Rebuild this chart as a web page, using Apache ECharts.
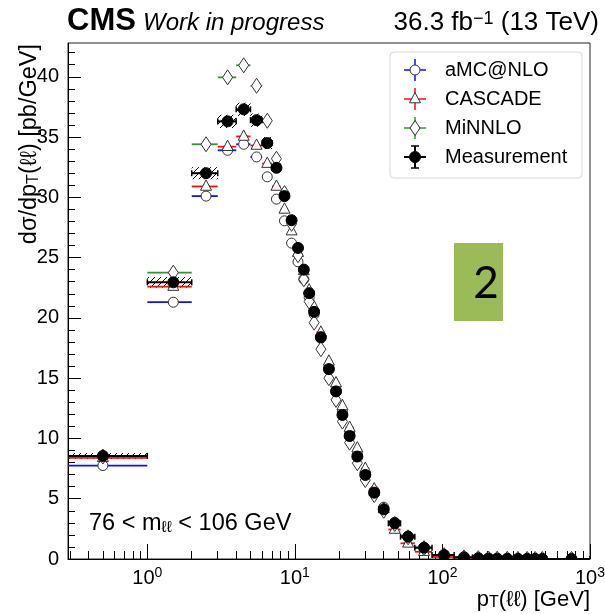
<!DOCTYPE html>
<html><head><meta charset="utf-8">
<script src="https://cdn.jsdelivr.net/npm/echarts@6/dist/echarts.min.js"></script>
<style>html,body{margin:0;padding:0;background:#fff}#c{width:605px;height:614px}</style>
</head><body><div id="c"></div>
<script>
// ---------------- data ----------------
const binEdges = [0,1,2,3,4,5,6,7,8,9,10,11,12,13,14,16,18,20,22,25,28,32,37,43,52,65,85,120,160,190,220,250,300,350,400,450,500,1000];
const measurement = [8.55,22.95,32.0,36.3,37.3,36.4,34.5,32.45,30.1,28.1,25.8,24.0,22.05,20.5,18.4,15.75,13.9,11.95,10.2,8.5,6.97,5.5,4.12,2.96,1.85,0.94,0.33,0.14,0.07,0.045,0.03,0.02,0.012,0.008,0.005,0.004,0.0008];
const measurementStat = [0.05,0.1,0.12,0.12,0.12,0.12,0.12,0.11,0.1,0.1,0.1,0.09,0.09,0.09,0.08,0.08,0.07,0.07,0.06,0.05,0.05,0.04,0.04,0.03,0.02,0.02,0.01,0.01,0.005,0.004,0.003,0.002,0.002,0.001,0.001,0.001,0.0005];
const measurementSyst = [0.25,0.45,0.5,0.55,0.55,0.55,0.5,0.45,0.42,0.4,0.37,0.35,0.32,0.3,0.27,0.23,0.2,0.18,0.15,0.13,0.11,0.09,0.07,0.05,0.04,0.02,0.01,0.005,0.003,0.002,0.002,0.001,0.001,0.001,0.001,0.001,0.0005];
const amcnlo = [7.75,21.3,30.1,33.9,34.4,33.35,31.7,29.85,28.05,26.2,24.65,23.2,21.7,20.3,18.3,15.9,14.0,12.2,10.4,8.7,7.1,5.65,4.3,3.05,1.9,0.95,0.33,0.13,0.065,0.04,0.027,0.017,0.01,0.0065,0.0045,0.003,0.0007];
const cascade = [8.4,22.6,30.9,34.2,35.05,34.3,32.8,30.9,29.0,27.2,25.4,23.9,22.3,20.9,18.8,16.4,14.6,12.7,10.9,9.2,7.5,5.8,4.15,2.45,1.3,0.6,0.17,0.06,0.03,0.018,0.012,0.007,0.004,0.0025,0.0016,0.0011,0.0002];
const minnlo = [8.5,23.75,34.4,39.95,40.95,39.25,36.35,33.2,30.35,27.8,25.2,23.2,21.35,19.6,17.4,15.0,13.2,11.4,9.65,7.95,6.55,5.3,4.0,2.9,1.8,0.9,0.32,0.13,0.065,0.04,0.027,0.017,0.01,0.0065,0.0045,0.003,0.0007];
const seriesNames = ['aMC@NLO','CASCADE','MiNNLO','Measurement'];
const xMajorTicks = [1,10,100,1000];
const xMinorTicks = [0.3,0.4,0.5,0.6,0.7,0.8,0.9,2,3,4,5,6,7,8,9,20,30,40,50,60,70,80,90,200,300,400,500,600,700,800,900];
const yMajorTicks = [0,5,10,15,20,25,30,35,40];
const yMinorTicks = [1,2,3,4,6,7,8,9,11,12,13,14,16,17,18,19,21,22,23,24,26,27,28,29,31,32,33,34,36,37,38,39,41,42];

// ---------------- layout / style ----------------
const X_MIN = 0.29, X_MAX = 1000, Y_MIN = 0, Y_MAX = 42.8;
const FONT = '"Liberation Sans", Arial, "DejaVu Sans", sans-serif';
const COLORS = {amc:'#1010f0', cas:'#f01010', min:'#2e962e', meas:'#000'};

function binRows(values, extra) {
  const rows = [];
  for (let i = 0; i < values.length; i++) {
    const lo = binEdges[i], hi = binEdges[i+1];
    rows.push([lo, hi, (lo + hi) / 2, values[i], extra ? extra[0][i] : 0, extra ? extra[1][i] : 0]);
  }
  return rows;
}

function markerEl(kind, p) {
  const cx = p[0], cy = p[1];
  const st = {fill:'#fff', stroke:'#333', lineWidth:1};
  if (kind === 'circle') return {type:'circle', shape:{cx, cy, r:5}, style:st};
  if (kind === 'triangle') return {type:'polygon', shape:{points:[[cx,cy-6.5],[cx+5.5,cy+3.8],[cx-5.5,cy+3.8]]}, style:st};
  if (kind === 'diamond') return {type:'polygon', shape:{points:[[cx,cy-7.5],[cx+5,cy],[cx,cy+7.5],[cx-5,cy]]}, style:st};
  return {type:'circle', shape:{cx, cy, r:5.5}, style:{fill:'#000', stroke:'#000', lineWidth:1}};
}

function modelRender(color, kind) {
  return function (params, api) {
    const lo = Math.max(api.value(0), X_MIN), hi = api.value(1), c = api.value(2), v = api.value(3);
    const p0 = api.coord([lo, v]), p1 = api.coord([hi, v]), pc = api.coord([c, v]);
    return {type:'group', children:[
      {type:'line', shape:{x1:p0[0], y1:p0[1], x2:p1[0], y2:p1[1]}, style:{stroke:color, lineWidth:1.8}},
      markerEl(kind, pc)
    ]};
  };
}

// hatch pattern
const pat = document.createElement('canvas');
pat.width = 6; pat.height = 6;
(function(){
  const g = pat.getContext('2d');
  g.strokeStyle = '#000'; g.lineWidth = 1;
  g.beginPath();
  g.moveTo(-1,7); g.lineTo(7,-1);
  g.moveTo(-1,1); g.lineTo(1,-1);
  g.moveTo(5,7); g.lineTo(7,5);
  g.stroke();
})();

function bandRender(params, api) {
  const lo = Math.max(api.value(0), X_MIN), hi = api.value(1), v = api.value(3), s = api.value(5);
  const a = api.coord([lo, v + s]), b = api.coord([hi, v - s]);
  return {type:'rect', shape:{x:a[0], y:a[1], width:b[0]-a[0], height:Math.max(b[1]-a[1], 0.5)},
          style:{fill:{image:pat, repeat:'repeat'}}};
}

function measRender(params, api) {
  const lo = Math.max(api.value(0), X_MIN), hi = api.value(1), c = api.value(2), v = api.value(3), e = api.value(4);
  const p0 = api.coord([lo, v]), p1 = api.coord([hi, v]), pc = api.coord([c, v]);
  const pu = api.coord([c, v + e]), pd = api.coord([c, v - e]);
  const ls = {stroke:'#000', lineWidth:2};
  return {type:'group', children:[
    {type:'line', shape:{x1:p0[0], y1:p0[1], x2:p1[0], y2:p1[1]}, style:ls},
    {type:'line', shape:{x1:p0[0], y1:p0[1]-3, x2:p0[0], y2:p0[1]+3}, style:{stroke:'#000', lineWidth:1.5}},
    {type:'line', shape:{x1:p1[0], y1:p1[1]-3, x2:p1[0], y2:p1[1]+3}, style:{stroke:'#000', lineWidth:1.5}},
    {type:'line', shape:{x1:pu[0], y1:pu[1], x2:pd[0], y2:pd[1]}, style:ls},
    markerEl('filled', pc)
  ]};
}

const measRows = binRows(measurement, [measurementStat, measurementSyst]);

// ---------------- legend (graphic) ----------------
const legendKinds = ['circle','triangle','diamond','filled'];
const legendColors = [COLORS.amc, COLORS.cas, COLORS.min, COLORS.meas];
const legendEls = [{type:'rect', shape:{x:390, y:52, width:192, height:126, r:4}, style:{fill:'#fff', stroke:'#d8d8d8', lineWidth:1}, z:100}];
seriesNames.forEach((name, i) => {
  const cy = 70 + i * 29, cx = 415;
  const col = legendColors[i];
  const lw = i === 3 ? 2 : 1.5;
  legendEls.push({type:'line', shape:{x1:cx-11, y1:cy, x2:cx+11, y2:cy}, style:{stroke:col, lineWidth:lw}, z:101});
  legendEls.push({type:'line', shape:{x1:cx, y1:cy-11, x2:cx, y2:cy+11}, style:{stroke:col, lineWidth:lw}, z:101});
  if (i === 3) {
    legendEls.push({type:'line', shape:{x1:cx-4, y1:cy-11, x2:cx+4, y2:cy-11}, style:{stroke:col, lineWidth:1.5}, z:101});
    legendEls.push({type:'line', shape:{x1:cx-4, y1:cy+11, x2:cx+4, y2:cy+11}, style:{stroke:col, lineWidth:1.5}, z:101});
  }
  const m = markerEl(legendKinds[i], [cx, cy]); m.z = 102;
  legendEls.push(m);
  legendEls.push({type:'text', x:445, y:cy, z:102, style:{text:name, font:'20px ' + FONT, fill:'#000', verticalAlign:'middle', align:'left'}});
});

const supSub = {
  sup:{fontSize:14, fontFamily:FONT, verticalAlign:'top', lineHeight:14, fill:'#000'},
  sub:{fontSize:16, fontFamily:FONT, verticalAlign:'bottom', lineHeight:14, fill:'#000'}
};

const option = {
  animation:false,
  backgroundColor:'#fff',
  grid:{left:68, right:15, top:43, bottom:55, show:true, borderColor:'#222', borderWidth:1, containLabel:false, outerBoundsMode:'none'},
  xAxis:[
    {type:'log', logBase:10, min:X_MIN, max:X_MAX, position:'bottom',
     axisLine:{show:true, onZero:false, lineStyle:{color:'#000', width:1}},
     axisTick:{show:true, inside:true, length:15, customValues:xMajorTicks, lineStyle:{color:'#000'}},
     axisLabel:{show:true, customValues:xMajorTicks, margin:7, color:'#000',
       formatter:function(v){ return '{b|10}{s|' + Math.round(Math.log10(v)) + '}'; },
       rich:{b:{fontSize:20, fontFamily:FONT, lineHeight:24, color:'#000'}, s:{fontSize:14, fontFamily:FONT, lineHeight:12, verticalAlign:'top', color:'#000'}}},
     splitLine:{show:false}},
    {type:'log', logBase:10, min:X_MIN, max:X_MAX, position:'bottom', gridIndex:0,
     axisLine:{show:false, onZero:false},
     axisTick:{show:true, inside:true, length:8, customValues:xMinorTicks, lineStyle:{color:'#000'}},
     axisLabel:{show:false}, splitLine:{show:false}}
  ],
  yAxis:[
    {type:'value', min:Y_MIN, max:Y_MAX, position:'left',
     axisLine:{show:true, onZero:false, lineStyle:{color:'#000', width:1}},
     axisTick:{show:true, inside:true, length:13, customValues:yMajorTicks, lineStyle:{color:'#000'}},
     axisLabel:{show:true, customValues:yMajorTicks, margin:9, color:'#000', fontSize:20, fontFamily:FONT},
     splitLine:{show:false}},
    {type:'value', min:Y_MIN, max:Y_MAX, position:'left',
     axisLine:{show:false, onZero:false},
     axisTick:{show:true, inside:true, length:7, customValues:yMinorTicks, lineStyle:{color:'#000'}},
     axisLabel:{show:false}, splitLine:{show:false}}
  ],
  graphic:[
    {type:'text', x:67, y:21, style:{text:'CMS', font:'bold 31px ' + FONT, fill:'#000', verticalAlign:'middle'}},
    {type:'text', x:143, y:23, style:{text:'Work in progress', font:'italic 24px ' + FONT, fill:'#000', verticalAlign:'middle'}},
    {type:'text', x:599, y:23, style:{text:'36.3 fb{sup|−1} (13 TeV)', font:'26px ' + FONT, fill:'#000', align:'right', verticalAlign:'middle',
      rich:{sup:{fontSize:18, fontFamily:FONT, verticalAlign:'top', lineHeight:14, fill:'#000'}}}},
    {type:'text', x:30, y:44, rotation:Math.PI/2, style:{text:'dσ/dp{sub|T}(ℓℓ) [pb/GeV]', font:'23.5px ' + FONT, fill:'#000', align:'right', verticalAlign:'middle', rich:supSub}},
    {type:'text', x:590, y:600, style:{text:'p{sub|T}(ℓℓ) [GeV]', font:'22px ' + FONT, fill:'#000', align:'right', verticalAlign:'middle', rich:supSub}},
    {type:'text', x:89, y:524, style:{text:'76 < m{sub|ℓℓ} < 106 GeV', font:'23.5px ' + FONT, fill:'#000', align:'left', verticalAlign:'middle', rich:supSub}},
    {type:'rect', shape:{x:454, y:243, width:49, height:78}, style:{fill:'#9bbb59'}, z:50},
    {type:'text', x:486, y:284, z:51, style:{text:'2', font:'44px Lato, ' + FONT, fill:'#000', align:'center', verticalAlign:'middle'}},
    {type:'group', children:legendEls}
  ],
  series:[
    {type:'custom', name:'band', renderItem:bandRender, data:measRows, encode:{x:2, y:3}, clip:true, z:1},
    {type:'custom', name:seriesNames[0], renderItem:modelRender(COLORS.amc,'circle'), data:binRows(amcnlo), encode:{x:2, y:3}, clip:true, z:2},
    {type:'custom', name:seriesNames[1], renderItem:modelRender(COLORS.cas,'triangle'), data:binRows(cascade), encode:{x:2, y:3}, clip:true, z:3},
    {type:'custom', name:seriesNames[2], renderItem:modelRender(COLORS.min,'diamond'), data:binRows(minnlo), encode:{x:2, y:3}, clip:true, z:4},
    {type:'custom', name:seriesNames[3], renderItem:measRender, data:measRows, encode:{x:2, y:3}, clip:true, z:5}
  ]
};

const chart = echarts.init(document.getElementById('c'), null, {renderer:'canvas'});
chart.setOption(option);
</script>
</body></html>
